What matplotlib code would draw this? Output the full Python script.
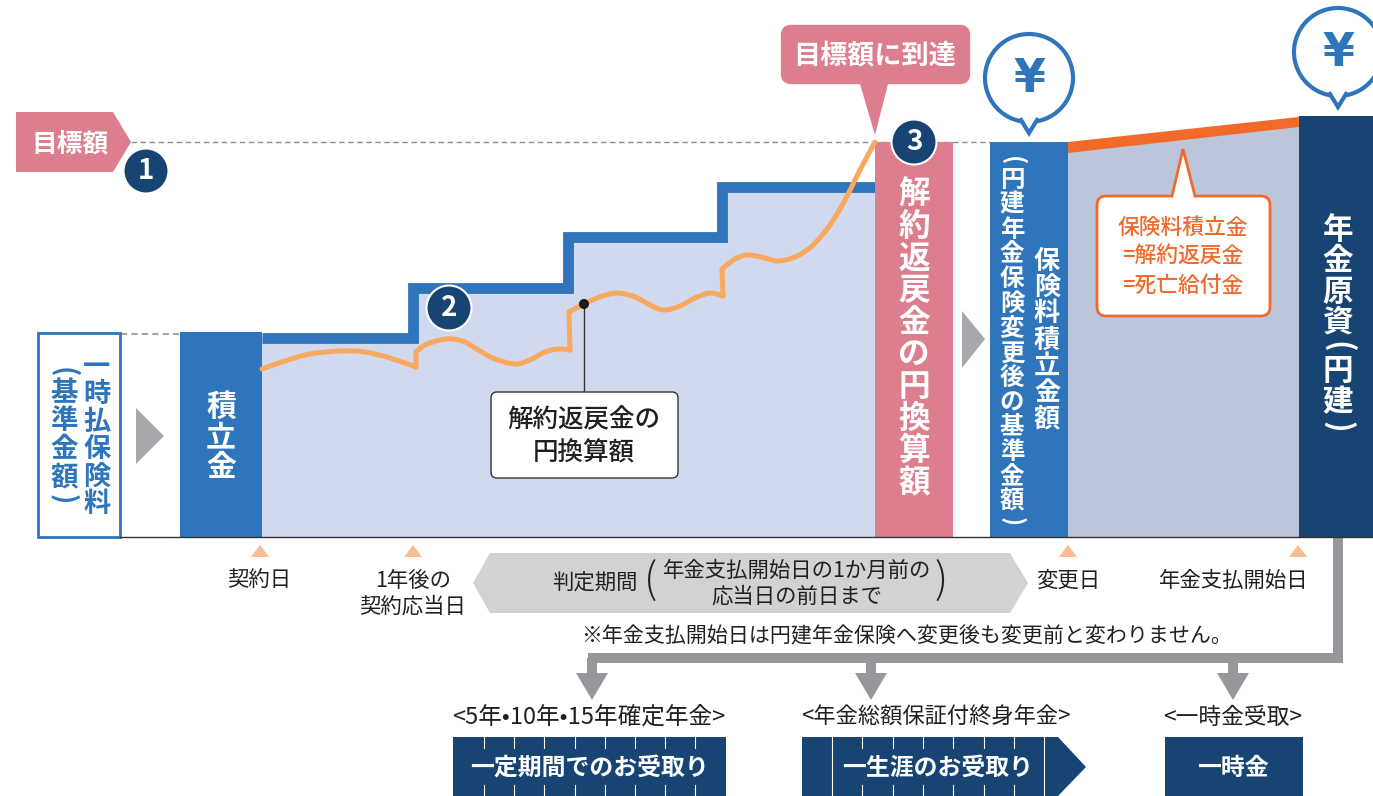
import matplotlib
matplotlib.use("Agg")
import matplotlib.pyplot as plt
from matplotlib.patches import Polygon, Circle, FancyBboxPatch, PathPatch
from matplotlib.path import Path

plt.rcParams['font.family'] = ['Noto Sans CJK JP', 'DejaVu Sans']

W, H = 1373, 796

# couleurs
BLUE = "#2E75BB"
NAVY = "#174472"
PINK = "#DC7E8D"
LIGHT = "#D0D9EE"
SLATE = "#BCC6DA"
ORANGE = "#F26A2A"
CURVE = "#F9A85D"
GREY = "#97989C"
TXT = "#231F20"

# paliers du montant de base
step_x = [262, 413, 413, 567.5, 567.5, 722, 722, 875]
step_y = [338, 338, 287.5, 287.5, 237, 237, 187, 187]

# courbe du montant de rachat, un morceau par palier
curve_parts = [
    ([262, 285, 310, 340, 365, 390, 416], [369, 361, 354, 351, 352, 358, 367]),
    ([416, 416], [367, 352]),
    ([416, 425, 440, 452, 465, 480, 495, 515, 530, 545, 558, 570],
     [352, 345, 340, 339, 342, 351, 359, 364, 360, 352, 349, 350]),
    ([570, 569], [350, 312]),
    ([569, 584, 600, 617, 635, 650, 664, 680, 695, 710, 723],
     [312, 304, 297, 293, 297, 305, 310, 306, 298, 293, 296]),
    ([723, 722], [296, 269]),
    ([722, 735, 748, 765, 778, 795, 812, 830, 845, 860, 875],
     [269, 259, 255, 258, 261, 257, 246, 225, 200, 170, 142]),
]

# textes verticaux : x, y début, y fin, texte, taille, couleur
vertical_texts = [
    (97, 353, 518, "一時払保険料", 19.6, BLUE),
    (64, 364, 507, "(基準金額)", 19.8, BLUE),
    (221, 392, 482, "積立金", 21.5, "white"),
    (914, 179, 499, "解約返戻金の円換算額", 22.8, "white"),
    (1012, 154, 528, "(円建年金保険変更後の基準金額)", 17.6, "white"),
    (1047, 248, 432, "保険料積立金額", 18.8, "white"),
    (1338, 214, 435, "年金原資(円建)", 22, "white"),
]

# étiquettes de l'axe
date_labels = [
    (259, 581, "契約日"),
    (413, 581, "1年後の"),
    (413, 607, "契約応当日"),
    (1068, 581, "変更日"),
    (1234, 581, "年金支払開始日"),
]
date_marks = [260, 413, 1068, 1298]

ticks_box1 = [484, 514, 544, 575, 605, 635, 665, 695]
ticks_box2 = [862, 893, 923, 953, 984, 1014]
full_box2 = [832, 1044]

fig = plt.figure(figsize=(W / 100, H / 100), dpi=100)
ax = fig.add_axes([0, 0, 1, 1])
ax.set_xlim(0, W)
ax.set_ylim(H, 0)
ax.axis("off")


def poly(pts, color, z=2, **kw):
    ax.add_patch(Polygon(pts, closed=True, facecolor=color, edgecolor="none", zorder=z, **kw))


def rect(x0, y0, x1, y1, color, z=2):
    poly([(x0, y0), (x1, y0), (x1, y1), (x0, y1)], color, z)


def txt(x, y, s, size=15.4, color=TXT, weight="normal", z=8, **kw):
    ax.text(x, y, s, fontsize=size, color=color, fontweight=weight, ha="center", va="center", zorder=z, **kw)


def vtext(x, y0, y1, s, size, color):
    # texte vertical, caractère par caractère
    w = [0.55 if c in "()" else 1.0 for c in s]
    pitch = (y1 - y0) / sum(w)
    y = y0
    for c, k in zip(s, w):
        yc = y + k * pitch / 2
        rot = -90 if c in "()" else 0
        ax.text(x, yc, c, fontsize=size, color=color, fontweight="bold", ha="center", va="center",
                rotation=rot, zorder=8)
        y += k * pitch


def smooth(xs, ys):
    # passe par les points lus, avec des courbes de Bézier
    pts = list(zip(xs, ys))
    verts = [pts[0]]
    codes = [Path.MOVETO]
    for i in range(len(pts) - 1):
        p0 = pts[max(i - 1, 0)]
        p1 = pts[i]
        p2 = pts[i + 1]
        p3 = pts[min(i + 2, len(pts) - 1)]
        c1 = (p1[0] + (p2[0] - p0[0]) / 6, p1[1] + (p2[1] - p0[1]) / 6)
        c2 = (p2[0] - (p3[0] - p1[0]) / 6, p2[1] - (p3[1] - p1[1]) / 6)
        verts += [c1, c2, p2]
        codes += [Path.CURVE4] * 3
    return Path(verts, codes)


def yen(cx, cy, r):
    ax.add_patch(Circle((cx, cy), r, facecolor="white", edgecolor=BLUE, lw=3, zorder=5))
    poly([(cx - 7, cy + r - 3), (cx, cy + r + 11), (cx + 7, cy + r - 3)], "white", 6)
    ax.plot([cx - 8, cx, cx + 8], [cy + r - 2, cy + r + 11, cy + r - 2], color=BLUE, lw=3, zorder=7,
            solid_joinstyle="miter")
    ax.text(cx, cy + 1, "¥", fontsize=33, color=BLUE, fontweight="bold", family="DejaVu Sans",
            ha="center", va="center", zorder=8)


# lignes pointillées
ax.plot([131, 990], [142, 142], color="#8E8E8E", lw=1, dashes=(4, 2.5), zorder=1)
ax.plot([121, 180], [334, 334], color="#A5A5A5", lw=1.5, dashes=(3, 2), zorder=1)

# zones
poly(list(zip(step_x, step_y)) + [(875, 537), (262, 537)], LIGHT, 1)
poly([(1068, 147), (1299, 122), (1299, 537), (1068, 537)], SLATE, 1)
ax.plot(step_x, step_y, color=BLUE, lw=7.8, solid_joinstyle="miter", solid_capstyle="butt", zorder=2)
poly([(1068, 142), (1299, 117), (1299, 127), (1068, 153)], ORANGE, 3)
for xs, ys in curve_parts:
    ax.add_patch(PathPatch(smooth(xs, ys), facecolor="none", edgecolor=CURVE, lw=3.6,
                           capstyle="round", joinstyle="round", zorder=3))

# colonnes
ax.add_patch(plt.Rectangle((38, 333), 82, 204, facecolor="white", edgecolor=BLUE, lw=2, zorder=2))
rect(180, 332, 262, 537, BLUE)
rect(875, 142, 953, 537, PINK)
rect(990, 142, 1068, 537, BLUE)
rect(1299, 116, 1373, 537, NAVY)
ax.plot([120, 1373], [537, 537], color="#333333", lw=1, zorder=4)

for item in vertical_texts:
    vtext(*item)

# flèches grises
poly([(136, 408), (164, 436), (136, 464)], "#A7A8AB")
poly([(962, 311), (985, 339), (962, 368)], "#A7A8AB")

# étiquette objectif
poly([(16, 112), (113, 112), (131, 142), (113, 172), (16, 172)], PINK)
txt(70, 144, "目標額", 18.5, "white", "bold")

ax.add_patch(FancyBboxPatch((785, 29), 181, 51, boxstyle="round,pad=0,rounding_size=6",
                            facecolor=PINK, edgecolor=PINK, lw=6, zorder=4))
poly([(860, 84), (888, 84), (875, 135)], PINK, 4)
txt(875, 55, "目標額に到達", 19.5, "white", "bold")

# numéros
for cx, cy, n in [(146, 171, "1"), (449, 308, "2"), (914, 142, "3")]:
    ax.add_patch(Circle((cx, cy), 22.5, facecolor=NAVY, edgecolor="white", lw=1.5, zorder=6))
    txt(cx, cy, n, 20, "white", "bold")

yen(1029, 78, 44)
yen(1338, 52, 44)

# bulle orange
ax.add_patch(FancyBboxPatch((1097, 196), 173, 120, boxstyle="round,pad=0,rounding_size=9",
                            facecolor="white", edgecolor=ORANGE, lw=2, zorder=4))
poly([(1172, 198), (1183, 150), (1195, 198)], "white", 5)
ax.plot([1172, 1183, 1195], [196, 149, 196], color=ORANGE, lw=2, zorder=6, solid_joinstyle="miter")
txt(1183, 228, "保険料積立金", 15.7, ORANGE, "medium")
txt(1183, 257, "=解約返戻金", 15.7, ORANGE, "medium")
txt(1183, 286, "=死亡給付金", 15.7, ORANGE, "medium")

# bulle de la courbe
ax.plot([584, 584], [304, 392], color="#333333", lw=1, zorder=4)
ax.add_patch(Circle((584, 304), 5, facecolor="#1A1A1A", edgecolor="none", zorder=5))
ax.add_patch(FancyBboxPatch((491, 392), 187, 86, boxstyle="round,pad=0,rounding_size=6",
                            facecolor="white", edgecolor="#333333", lw=1, zorder=4))
txt(584, 420, "解約返戻金の", 18.4, TXT, "medium")
txt(584, 453, "円換算額", 18.4, TXT, "medium")

# repères de dates
for x in date_marks:
    poly([(x - 9, 557), (x, 545), (x + 9, 557)], "#F9BC91")
for x, y, s in date_labels:
    txt(x, y, s)

# période de jugement
poly([(473, 583), (490, 553), (1010, 553), (1028, 583), (1010, 613), (490, 613)], "#D1D2D4")
txt(595, 584, "判定期間")
txt(797, 571, "年金支払開始日の1か月前の")
txt(797, 597, "応当日の前日まで")
txt(651, 581, "(", 30, weight="light")
txt(941, 581, ")", 30, weight="light")
txt(907, 636, "※年金支払開始日は円建年金保険へ変更後も変更前と変わりません。", 15.1)

# connecteur vers les modes de versement
rect(1333, 537, 1343, 663, GREY)
rect(588, 653, 1343, 663, GREY)
for x in [592, 871, 1233]:
    rect(x - 5, 658, x + 5, 675, GREY)
    poly([(x - 16, 673), (x + 16, 673), (x, 700)], GREY)

txt(589, 717, "<5年•10年•15年確定年金>", 17)
txt(936, 717, "<年金総額保証付終身年金>", 16)
txt(1233, 717, "<一時金受取>", 16.4)

rect(453, 737, 726, 796, NAVY)
poly([(802, 737), (1058, 737), (1086, 767), (1058, 796), (802, 796)], NAVY)
rect(1165, 737, 1303, 796, NAVY)
for x in ticks_box1 + ticks_box2:
    ax.plot([x, x], [737, 748], color="white", lw=0.8, zorder=3)
    ax.plot([x, x], [785, 796], color="white", lw=0.8, zorder=3)
for x in full_box2:
    ax.plot([x, x], [737, 796], color="white", lw=0.8, zorder=3)
txt(589, 768, "一定期間でのお受取り", 17.2, "white", "bold")
txt(938, 768, "一生涯のお受取り", 17.2, "white", "bold")
txt(1233, 768, "一時金", 17.2, "white", "bold")

fig.savefig("out.png", dpi=100)
